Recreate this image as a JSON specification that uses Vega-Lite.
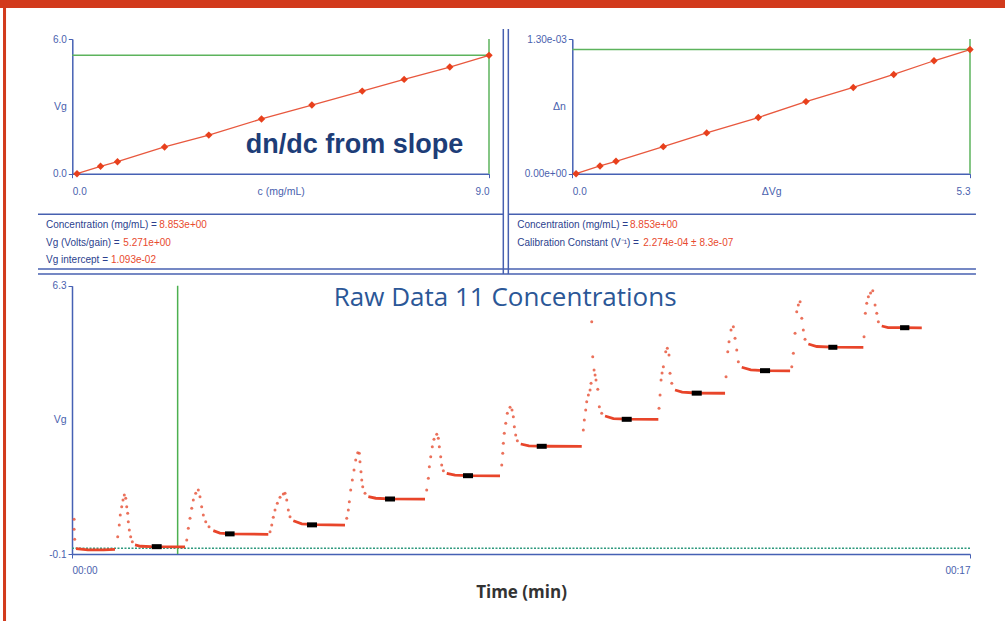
{
  "$schema": "https://vega.github.io/schema/vega-lite/v6.json",
  "width": 1005,
  "height": 621,
  "padding": 0,
  "autosize": {"type": "none"},
  "background": "white",
  "config": {
    "view": {"stroke": null},
    "axis": {
      "grid": false,
      "domainColor": "#4661b4",
      "tickColor": "#4661b4",
      "labelColor": "#4a5fae",
      "titleColor": "#4a5fae",
      "labelFont": "Liberation Sans",
      "titleFont": "Liberation Sans",
      "labelFontSize": 10,
      "titleFontSize": 10.5,
      "titleFontWeight": "normal",
      "domainWidth": 1.5,
      "tickSize": 4
    },
    "text": {"font": "Liberation Sans", "fontSize": 10, "align": "left", "baseline": "middle"}
  },
  "data": {"values": [{}]},
  "datasets": {
    "tl": [
      {"c": 0.1, "vg": 0.0}, {"c": 0.6, "vg": 0.33}, {"c": 0.96, "vg": 0.535}, {"c": 1.96, "vg": 1.19},
      {"c": 2.9, "vg": 1.72}, {"c": 4.02, "vg": 2.44}, {"c": 5.09, "vg": 3.06}, {"c": 6.16, "vg": 3.68},
      {"c": 7.05, "vg": 4.2}, {"c": 8.02, "vg": 4.75}, {"c": 8.853, "vg": 5.271}
    ],
    "tr": [
      {"dvg": 0.05, "dn": 0}, {"dvg": 0.367, "dn": 0.0000745}, {"dvg": 0.579, "dn": 0.00012}, {"dvg": 1.206, "dn": 0.000261},
      {"dvg": 1.781, "dn": 0.000394}, {"dvg": 2.465, "dn": 0.000542}, {"dvg": 3.097, "dn": 0.000696}, {"dvg": 3.724, "dn": 0.000832},
      {"dvg": 4.26, "dn": 0.000958}, {"dvg": 4.794, "dn": 0.00109}, {"dvg": 5.271, "dn": 0.0011986}
    ],
    "plateau": [
      {"seg": "L0", "t": 0.076, "v": 0.03}, {"seg": "L0", "t": 0.3, "v": 0.0}, {"seg": "L0", "t": 0.6, "v": 0.0}, {"seg": "L0", "t": 0.814, "v": 0.01},
      {"seg": "L1", "t": 1.193, "v": 0.115}, {"seg": "L1", "t": 1.3, "v": 0.085}, {"seg": "L1", "t": 1.5, "v": 0.075}, {"seg": "L1", "t": 2.14, "v": 0.07},
      {"seg": "L2", "t": 2.675, "v": 0.456}, {"seg": "L2", "t": 2.8, "v": 0.4}, {"seg": "L2", "t": 3.0, "v": 0.38}, {"seg": "L2", "t": 3.716, "v": 0.37},
      {"seg": "L3", "t": 4.19, "v": 0.694}, {"seg": "L3", "t": 4.35, "v": 0.62}, {"seg": "L3", "t": 4.6, "v": 0.6}, {"seg": "L3", "t": 5.168, "v": 0.59},
      {"seg": "L4", "t": 5.61, "v": 1.267}, {"seg": "L4", "t": 5.75, "v": 1.23}, {"seg": "L4", "t": 6.0, "v": 1.215}, {"seg": "L4", "t": 6.683, "v": 1.21},
      {"seg": "L5", "t": 7.094, "v": 1.825}, {"seg": "L5", "t": 7.25, "v": 1.78}, {"seg": "L5", "t": 7.5, "v": 1.77}, {"seg": "L5", "t": 8.103, "v": 1.765},
      {"seg": "L6", "t": 8.495, "v": 2.524}, {"seg": "L6", "t": 8.65, "v": 2.48}, {"seg": "L6", "t": 9.0, "v": 2.47}, {"seg": "L6", "t": 9.65, "v": 2.465},
      {"seg": "L7", "t": 10.091, "v": 3.192}, {"seg": "L7", "t": 10.25, "v": 3.13}, {"seg": "L7", "t": 10.5, "v": 3.115}, {"seg": "L7", "t": 11.1, "v": 3.11},
      {"seg": "L8", "t": 11.416, "v": 3.812}, {"seg": "L8", "t": 11.55, "v": 3.76}, {"seg": "L8", "t": 11.8, "v": 3.74}, {"seg": "L8", "t": 12.363, "v": 3.735},
      {"seg": "L9", "t": 12.679, "v": 4.354}, {"seg": "L9", "t": 12.85, "v": 4.29}, {"seg": "L9", "t": 13.1, "v": 4.275}, {"seg": "L9", "t": 13.594, "v": 4.27},
      {"seg": "L10", "t": 13.94, "v": 4.91}, {"seg": "L10", "t": 14.1, "v": 4.85}, {"seg": "L10", "t": 14.4, "v": 4.835}, {"seg": "L10", "t": 14.981, "v": 4.83},
      {"seg": "L11", "t": 15.329, "v": 5.339}, {"seg": "L11", "t": 15.45, "v": 5.3}, {"seg": "L11", "t": 15.7, "v": 5.298}, {"seg": "L11", "t": 16.087, "v": 5.295}
    ],
    "dots": [
      {"t": 0.04, "v": 0.73}, {"t": 0.04, "v": 0.49}, {"t": 0.05, "v": 0.25},
      {"t": 0.865, "v": 0.313}, {"t": 0.895, "v": 0.592}, {"t": 0.914, "v": 0.83}, {"t": 0.941, "v": 1.028}, {"t": 0.966, "v": 1.188}, {"t": 0.99, "v": 1.307}, {"t": 1.017, "v": 1.229}, {"t": 1.036, "v": 1.028}, {"t": 1.054, "v": 0.871}, {"t": 1.066, "v": 0.671}, {"t": 1.085, "v": 0.473}, {"t": 1.111, "v": 0.313}, {"t": 1.142, "v": 0.193},
      {"t": 2.172, "v": 0.234}, {"t": 2.202, "v": 0.513}, {"t": 2.234, "v": 0.752}, {"t": 2.266, "v": 0.99}, {"t": 2.296, "v": 1.188}, {"t": 2.342, "v": 1.348}, {"t": 2.391, "v": 1.427}, {"t": 2.423, "v": 1.267}, {"t": 2.455, "v": 1.028}, {"t": 2.486, "v": 0.83}, {"t": 2.532, "v": 0.671}, {"t": 2.594, "v": 0.551},
      {"t": 3.749, "v": 0.432}, {"t": 3.781, "v": 0.592}, {"t": 3.811, "v": 0.775}, {"t": 3.843, "v": 0.95}, {"t": 3.887, "v": 1.109}, {"t": 3.938, "v": 1.253}, {"t": 4.0, "v": 1.331}, {"t": 4.033, "v": 1.348}, {"t": 4.065, "v": 1.188}, {"t": 4.095, "v": 0.95}, {"t": 4.127, "v": 0.79},
      {"t": 5.201, "v": 0.752}, {"t": 5.231, "v": 0.95}, {"t": 5.25, "v": 1.148}, {"t": 5.276, "v": 1.427}, {"t": 5.307, "v": 1.665}, {"t": 5.339, "v": 1.904}, {"t": 5.371, "v": 2.142}, {"t": 5.409, "v": 2.317}, {"t": 5.439, "v": 2.302}, {"t": 5.452, "v": 2.102}, {"t": 5.471, "v": 1.863}, {"t": 5.485, "v": 1.665}, {"t": 5.504, "v": 1.505}, {"t": 5.547, "v": 1.348},
      {"t": 6.715, "v": 1.427}, {"t": 6.746, "v": 1.706}, {"t": 6.765, "v": 1.983}, {"t": 6.791, "v": 2.221}, {"t": 6.821, "v": 2.46}, {"t": 6.853, "v": 2.636}, {"t": 6.905, "v": 2.755}, {"t": 6.935, "v": 2.66}, {"t": 6.954, "v": 2.46}, {"t": 6.98, "v": 2.221}, {"t": 6.999, "v": 2.023}, {"t": 7.03, "v": 1.887},
      {"t": 8.135, "v": 2.023}, {"t": 8.154, "v": 2.302}, {"t": 8.166, "v": 2.541}, {"t": 8.184, "v": 2.779}, {"t": 8.211, "v": 3.018}, {"t": 8.241, "v": 3.256}, {"t": 8.292, "v": 3.4}, {"t": 8.33, "v": 3.335}, {"t": 8.355, "v": 3.175}, {"t": 8.374, "v": 2.937}, {"t": 8.4, "v": 2.739}, {"t": 8.431, "v": 2.603},
      {"t": 9.68, "v": 2.858}, {"t": 9.699, "v": 3.097}, {"t": 9.725, "v": 3.335}, {"t": 9.744, "v": 3.533}, {"t": 9.775, "v": 3.693}, {"t": 9.807, "v": 3.812}, {"t": 9.826, "v": 3.972}, {"t": 9.839, "v": 5.442}, {"t": 9.858, "v": 4.607}, {"t": 9.883, "v": 4.289}, {"t": 9.902, "v": 4.17}, {"t": 9.92, "v": 4.051}, {"t": 9.953, "v": 3.829}, {"t": 9.983, "v": 3.414}, {"t": 10.028, "v": 3.256},
      {"t": 11.113, "v": 3.376}, {"t": 11.132, "v": 3.693}, {"t": 11.151, "v": 4.051}, {"t": 11.17, "v": 4.218}, {"t": 11.195, "v": 4.368}, {"t": 11.24, "v": 4.726}, {"t": 11.27, "v": 4.807}, {"t": 11.302, "v": 4.647}, {"t": 11.321, "v": 4.211}, {"t": 11.354, "v": 3.972},
      {"t": 12.382, "v": 4.13}, {"t": 12.414, "v": 4.726}, {"t": 12.438, "v": 4.964}, {"t": 12.476, "v": 5.244}, {"t": 12.52, "v": 5.322}, {"t": 12.552, "v": 5.046}, {"t": 12.584, "v": 4.766}, {"t": 12.614, "v": 4.487},
      {"t": 13.626, "v": 4.368}, {"t": 13.656, "v": 4.688}, {"t": 13.688, "v": 5.165}, {"t": 13.72, "v": 5.68}, {"t": 13.75, "v": 5.84}, {"t": 13.783, "v": 5.919}, {"t": 13.815, "v": 5.523}, {"t": 13.845, "v": 5.244}, {"t": 13.877, "v": 5.022},
      {"t": 14.994, "v": 5.084}, {"t": 15.019, "v": 5.642}, {"t": 15.045, "v": 5.88}, {"t": 15.076, "v": 6.038}, {"t": 15.117, "v": 6.126}, {"t": 15.159, "v": 6.181}, {"t": 15.203, "v": 5.84}, {"t": 15.235, "v": 5.642}, {"t": 15.265, "v": 5.442}
    ],
    "avg": [
      {"t0": 1.509, "t1": 1.698, "v": 0.075}, {"t0": 2.897, "t1": 3.078, "v": 0.38}, {"t0": 4.449, "t1": 4.638, "v": 0.595},
      {"t0": 5.926, "t1": 6.115, "v": 1.212}, {"t0": 7.402, "t1": 7.592, "v": 1.768}, {"t0": 8.798, "t1": 8.987, "v": 2.469},
      {"t0": 10.407, "t1": 10.596, "v": 3.113}, {"t0": 11.732, "t1": 11.922, "v": 3.737}, {"t0": 13.025, "t1": 13.215, "v": 4.273},
      {"t0": 14.318, "t1": 14.489, "v": 4.831}, {"t0": 15.676, "t1": 15.852, "v": 5.298}
    ]
  },
  "resolve": {"scale": {"x": "independent", "y": "independent"}, "axis": {"x": "independent", "y": "independent"}},
  "layer": [
    {"mark": {"type": "rect", "color": "#d23a1c"},
     "encoding": {"x": {"datum": 0, "type": "quantitative", "scale": {"domain": [0, 1], "range": [0, 1005], "nice": false, "zero": false}, "axis": null}, "x2": {"datum": 1},
                  "y": {"datum": 0, "type": "quantitative", "scale": {"domain": [0, 1], "range": [0, 621], "nice": false, "zero": false}, "axis": null}, "y2": {"datum": 0.0129}}},
    {"mark": {"type": "rect", "color": "#d23a1c"},
     "encoding": {"x": {"datum": 0.003, "type": "quantitative", "scale": {"domain": [0, 1], "range": [0, 1005], "nice": false, "zero": false}, "axis": null}, "x2": {"datum": 0.006},
                  "y": {"datum": 0, "type": "quantitative", "scale": {"domain": [0, 1], "range": [0, 621], "nice": false, "zero": false}, "axis": null}, "y2": {"datum": 1}}},
    {"mark": {"type": "rule", "color": "#4760b0", "strokeWidth": 1.5},
     "encoding": {"x": {"datum": 0.0378, "type": "quantitative", "scale": {"domain": [0, 1], "range": [0, 1005], "nice": false, "zero": false}, "axis": null}, "x2": {"datum": 0.5005},
                  "y": {"datum": 0.3451, "type": "quantitative", "scale": {"domain": [0, 1], "range": [0, 621], "nice": false, "zero": false}, "axis": null}}},
    {"mark": {"type": "rule", "color": "#4760b0", "strokeWidth": 1.5},
     "encoding": {"x": {"datum": 0.5058, "type": "quantitative", "scale": {"domain": [0, 1], "range": [0, 1005], "nice": false, "zero": false}, "axis": null}, "x2": {"datum": 0.9711},
                  "y": {"datum": 0.3451, "type": "quantitative", "scale": {"domain": [0, 1], "range": [0, 621], "nice": false, "zero": false}, "axis": null}}},
    {"mark": {"type": "rule", "color": "#4760b0", "strokeWidth": 1.5},
     "encoding": {"x": {"datum": 0.0378, "type": "quantitative", "scale": {"domain": [0, 1], "range": [0, 1005], "nice": false, "zero": false}, "axis": null}, "x2": {"datum": 0.9711},
                  "y": {"datum": 0.4332, "type": "quantitative", "scale": {"domain": [0, 1], "range": [0, 621], "nice": false, "zero": false}, "axis": null}}},
    {"mark": {"type": "rule", "color": "#4760b0", "strokeWidth": 1.5},
     "encoding": {"x": {"datum": 0.0378, "type": "quantitative", "scale": {"domain": [0, 1], "range": [0, 1005], "nice": false, "zero": false}, "axis": null}, "x2": {"datum": 0.9711},
                  "y": {"datum": 0.4412, "type": "quantitative", "scale": {"domain": [0, 1], "range": [0, 621], "nice": false, "zero": false}, "axis": null}}},
    {"mark": {"type": "rule", "color": "#4760b0", "strokeWidth": 1.5},
     "encoding": {"x": {"datum": 0.5008, "type": "quantitative", "scale": {"domain": [0, 1], "range": [0, 1005], "nice": false, "zero": false}, "axis": null},
                  "y": {"datum": 0.0467, "type": "quantitative", "scale": {"domain": [0, 1], "range": [0, 621], "nice": false, "zero": false}, "axis": null}, "y2": {"datum": 0.4412}}},
    {"mark": {"type": "rule", "color": "#4760b0", "strokeWidth": 1.5},
     "encoding": {"x": {"datum": 0.5058, "type": "quantitative", "scale": {"domain": [0, 1], "range": [0, 1005], "nice": false, "zero": false}, "axis": null},
                  "y": {"datum": 0.0467, "type": "quantitative", "scale": {"domain": [0, 1], "range": [0, 621], "nice": false, "zero": false}, "axis": null}, "y2": {"datum": 0.4412}}},
    {"mark": {"type": "text", "text": "Concentration (mg/mL) = ", "color": "#2c3f8e"},
     "encoding": {"x": {"datum": 0.0458, "type": "quantitative", "scale": {"domain": [0, 1], "range": [0, 1005], "nice": false, "zero": false}, "axis": null},
                  "y": {"datum": 0.3623, "type": "quantitative", "scale": {"domain": [0, 1], "range": [0, 621], "nice": false, "zero": false}, "axis": null}}},
    {"mark": {"type": "text", "text": "8.853e+00", "color": "#e84a2e"},
     "encoding": {"x": {"datum": 0.1585, "type": "quantitative", "scale": {"domain": [0, 1], "range": [0, 1005], "nice": false, "zero": false}, "axis": null},
                  "y": {"datum": 0.3623, "type": "quantitative", "scale": {"domain": [0, 1], "range": [0, 621], "nice": false, "zero": false}, "axis": null}}},
    {"mark": {"type": "text", "text": "Vg (Volts/gain) = ", "color": "#2c3f8e"},
     "encoding": {"x": {"datum": 0.0458, "type": "quantitative", "scale": {"domain": [0, 1], "range": [0, 1005], "nice": false, "zero": false}, "axis": null},
                  "y": {"datum": 0.3908, "type": "quantitative", "scale": {"domain": [0, 1], "range": [0, 621], "nice": false, "zero": false}, "axis": null}}},
    {"mark": {"type": "text", "text": "5.271e+00", "color": "#e84a2e"},
     "encoding": {"x": {"datum": 0.1227, "type": "quantitative", "scale": {"domain": [0, 1], "range": [0, 1005], "nice": false, "zero": false}, "axis": null},
                  "y": {"datum": 0.3908, "type": "quantitative", "scale": {"domain": [0, 1], "range": [0, 621], "nice": false, "zero": false}, "axis": null}}},
    {"mark": {"type": "text", "text": "Vg intercept = ", "color": "#2c3f8e"},
     "encoding": {"x": {"datum": 0.0458, "type": "quantitative", "scale": {"domain": [0, 1], "range": [0, 1005], "nice": false, "zero": false}, "axis": null},
                  "y": {"datum": 0.4192, "type": "quantitative", "scale": {"domain": [0, 1], "range": [0, 621], "nice": false, "zero": false}, "axis": null}}},
    {"mark": {"type": "text", "text": "1.093e-02", "color": "#e84a2e"},
     "encoding": {"x": {"datum": 0.1104, "type": "quantitative", "scale": {"domain": [0, 1], "range": [0, 1005], "nice": false, "zero": false}, "axis": null},
                  "y": {"datum": 0.4192, "type": "quantitative", "scale": {"domain": [0, 1], "range": [0, 621], "nice": false, "zero": false}, "axis": null}}},
    {"mark": {"type": "text", "text": "Concentration (mg/mL) = ", "color": "#2c3f8e"},
     "encoding": {"x": {"datum": 0.5147, "type": "quantitative", "scale": {"domain": [0, 1], "range": [0, 1005], "nice": false, "zero": false}, "axis": null},
                  "y": {"datum": 0.3623, "type": "quantitative", "scale": {"domain": [0, 1], "range": [0, 621], "nice": false, "zero": false}, "axis": null}}},
    {"mark": {"type": "text", "text": "8.853e+00", "color": "#e84a2e"},
     "encoding": {"x": {"datum": 0.6269, "type": "quantitative", "scale": {"domain": [0, 1], "range": [0, 1005], "nice": false, "zero": false}, "axis": null},
                  "y": {"datum": 0.3623, "type": "quantitative", "scale": {"domain": [0, 1], "range": [0, 621], "nice": false, "zero": false}, "axis": null}}},
    {"mark": {"type": "text", "text": "Calibration Constant (V⁻¹) = ", "color": "#2c3f8e"},
     "encoding": {"x": {"datum": 0.5147, "type": "quantitative", "scale": {"domain": [0, 1], "range": [0, 1005], "nice": false, "zero": false}, "axis": null},
                  "y": {"datum": 0.3908, "type": "quantitative", "scale": {"domain": [0, 1], "range": [0, 621], "nice": false, "zero": false}, "axis": null}}},
    {"mark": {"type": "text", "text": "2.274e-04 ±  8.3e-07", "color": "#e84a2e"},
     "encoding": {"x": {"datum": 0.6401, "type": "quantitative", "scale": {"domain": [0, 1], "range": [0, 1005], "nice": false, "zero": false}, "axis": null},
                  "y": {"datum": 0.3908, "type": "quantitative", "scale": {"domain": [0, 1], "range": [0, 621], "nice": false, "zero": false}, "axis": null}}},

    {"data": {"name": "tl"}, "mark": {"type": "line", "color": "#e8583e", "strokeWidth": 1.3},
     "encoding": {
       "x": {"field": "c", "type": "quantitative", "scale": {"domain": [0, 8.853], "range": [72.3, 489], "nice": false, "zero": false},
             "axis": {"orient": "bottom", "offset": -447.3, "values": [0, 8.853], "labelExpr": "datum.value == 0 ? '0.0' : '9.0'", "labelFlush": true, "labelPadding": 14, "labelBaseline": "middle", "title": "c (mg/mL)", "titleY": 18, "titleBaseline": "middle"}},
       "y": {"field": "vg", "type": "quantitative", "scale": {"domain": [0, 6], "range": [173.7, 39], "nice": false, "zero": false},
             "axis": {"orient": "left", "offset": -72.3, "values": [0, 6], "format": ".1f", "labelPadding": 2, "title": "Vg", "titleAngle": 0, "titleX": -6, "titleAlign": "right", "titleBaseline": "middle"}}}},
    {"mark": {"type": "rule", "color": "#5db35d", "strokeWidth": 1.5},
     "encoding": {"x": {"datum": 0, "type": "quantitative", "scale": {"domain": [0, 8.853], "range": [72.3, 489], "nice": false, "zero": false}, "axis": null}, "x2": {"datum": 8.853},
                  "y": {"datum": 5.271, "type": "quantitative", "scale": {"domain": [0, 6], "range": [173.7, 39], "nice": false, "zero": false}, "axis": null}}},
    {"mark": {"type": "rule", "color": "#5db35d", "strokeWidth": 1.5},
     "encoding": {"x": {"datum": 8.853, "type": "quantitative", "scale": {"domain": [0, 8.853], "range": [72.3, 489], "nice": false, "zero": false}, "axis": null},
                  "y": {"datum": 0, "type": "quantitative", "scale": {"domain": [0, 6], "range": [173.7, 39], "nice": false, "zero": false}, "axis": null}, "y2": {"datum": 6}}},
    {"data": {"name": "tl"}, "mark": {"type": "point", "shape": "diamond", "filled": true, "size": 55, "color": "#e8401c", "opacity": 1},
     "encoding": {"x": {"field": "c", "type": "quantitative", "scale": {"domain": [0, 8.853], "range": [72.3, 489], "nice": false, "zero": false}, "axis": null},
                  "y": {"field": "vg", "type": "quantitative", "scale": {"domain": [0, 6], "range": [173.7, 39], "nice": false, "zero": false}, "axis": null}}},
    {"mark": {"type": "text", "text": "dn/dc from slope", "align": "center", "font": "Liberation Sans", "fontWeight": "bold", "fontSize": 27, "color": "#1d3d78"},
     "encoding": {"x": {"datum": 5.996, "type": "quantitative", "scale": {"domain": [0, 8.853], "range": [72.3, 489], "nice": false, "zero": false}, "axis": null},
                  "y": {"datum": 1.278, "type": "quantitative", "scale": {"domain": [0, 6], "range": [173.7, 39], "nice": false, "zero": false}, "axis": null}}},

    {"data": {"name": "tr"}, "mark": {"type": "line", "color": "#e8583e", "strokeWidth": 1.3},
     "encoding": {
       "x": {"field": "dvg", "type": "quantitative", "scale": {"domain": [0, 5.271], "range": [572.3, 970], "nice": false, "zero": false},
             "axis": {"orient": "bottom", "offset": -447.3, "values": [0, 5.271], "labelExpr": "datum.value == 0 ? '0.0' : '5.3'", "labelFlush": true, "labelPadding": 14, "labelBaseline": "middle", "title": "ΔVg", "titleY": 18, "titleBaseline": "middle"}},
       "y": {"field": "dn", "type": "quantitative", "scale": {"domain": [0, 0.0013], "range": [173.7, 39], "nice": false, "zero": false},
             "axis": {"orient": "left", "offset": -572.3, "values": [0, 0.0013], "labelExpr": "datum.value == 0 ? '0.00e+00' : '1.30e-03'", "labelPadding": 2, "title": "Δn", "titleAngle": 0, "titleX": -7, "titleAlign": "right", "titleBaseline": "middle"}}}},
    {"mark": {"type": "rule", "color": "#5db35d", "strokeWidth": 1.5},
     "encoding": {"x": {"datum": 0, "type": "quantitative", "scale": {"domain": [0, 5.271], "range": [572.3, 970], "nice": false, "zero": false}, "axis": null}, "x2": {"datum": 5.271},
                  "y": {"datum": 0.0011986, "type": "quantitative", "scale": {"domain": [0, 0.0013], "range": [173.7, 39], "nice": false, "zero": false}, "axis": null}}},
    {"mark": {"type": "rule", "color": "#5db35d", "strokeWidth": 1.5},
     "encoding": {"x": {"datum": 5.271, "type": "quantitative", "scale": {"domain": [0, 5.271], "range": [572.3, 970], "nice": false, "zero": false}, "axis": null},
                  "y": {"datum": 0, "type": "quantitative", "scale": {"domain": [0, 0.0013], "range": [173.7, 39], "nice": false, "zero": false}, "axis": null}, "y2": {"datum": 0.0013}}},
    {"data": {"name": "tr"}, "mark": {"type": "point", "shape": "diamond", "filled": true, "size": 55, "color": "#e8401c", "opacity": 1},
     "encoding": {"x": {"field": "dvg", "type": "quantitative", "scale": {"domain": [0, 5.271], "range": [572.3, 970], "nice": false, "zero": false}, "axis": null},
                  "y": {"field": "dn", "type": "quantitative", "scale": {"domain": [0, 0.0013], "range": [173.7, 39], "nice": false, "zero": false}, "axis": null}}},

    {"mark": {"type": "rule", "color": "#2e9a7e", "strokeWidth": 1.5, "strokeDash": [2, 1.5]},
     "encoding": {"x": {"datum": 0, "type": "quantitative", "scale": {"domain": [0, 17], "range": [72, 970], "nice": false, "zero": false}, "axis": null}, "x2": {"datum": 17},
                  "y": {"datum": 0.04, "type": "quantitative", "scale": {"domain": [-0.1, 6.3], "range": [554, 285.7], "nice": false, "zero": false}, "axis": null}}},
    {"mark": {"type": "rule", "color": "#4cb050", "strokeWidth": 1.5},
     "encoding": {"x": {"datum": 2.0, "type": "quantitative", "scale": {"domain": [0, 17], "range": [72, 970], "nice": false, "zero": false}, "axis": null},
                  "y": {"datum": -0.1, "type": "quantitative", "scale": {"domain": [-0.1, 6.3], "range": [554, 285.7], "nice": false, "zero": false}, "axis": null}, "y2": {"datum": 6.3}}},
    {"data": {"name": "plateau"}, "mark": {"type": "line", "color": "#e8452a", "strokeWidth": 2.8},
     "encoding": {
       "x": {"field": "t", "type": "quantitative", "scale": {"domain": [0, 17], "range": [72, 970], "nice": false, "zero": false},
             "axis": {"orient": "bottom", "offset": -67, "values": [0, 17], "labelExpr": "datum.value == 0 ? '00:00' : '00:17'", "labelFlush": true, "labelPadding": 12, "labelBaseline": "middle", "title": "Time (min)", "titleY": 38, "titleBaseline": "middle", "titleFont": "Open Sans", "titleFontWeight": "bold", "titleFontSize": 17, "titleColor": "#333333"}},
       "y": {"field": "v", "type": "quantitative", "scale": {"domain": [-0.1, 6.3], "range": [554, 285.7], "nice": false, "zero": false},
             "axis": {"orient": "left", "offset": -72, "values": [-0.1, 6.3], "labelExpr": "datum.value < 0 ? '-0.1' : '6.3'", "labelPadding": 2, "title": "Vg", "titleAngle": 0, "titleX": -6, "titleAlign": "right", "titleBaseline": "middle"}},
       "detail": {"field": "seg"}}},
    {"data": {"name": "dots"}, "mark": {"type": "point", "shape": "circle", "filled": true, "size": 9, "color": "#e8583e", "opacity": 0.85},
     "encoding": {"x": {"field": "t", "type": "quantitative", "scale": {"domain": [0, 17], "range": [72, 970], "nice": false, "zero": false}, "axis": null},
                  "y": {"field": "v", "type": "quantitative", "scale": {"domain": [-0.1, 6.3], "range": [554, 285.7], "nice": false, "zero": false}, "axis": null}}},
    {"data": {"name": "avg"}, "mark": {"type": "rule", "color": "#000000", "strokeWidth": 5},
     "encoding": {"x": {"field": "t0", "type": "quantitative", "scale": {"domain": [0, 17], "range": [72, 970], "nice": false, "zero": false}, "axis": null}, "x2": {"field": "t1"},
                  "y": {"field": "v", "type": "quantitative", "scale": {"domain": [-0.1, 6.3], "range": [554, 285.7], "nice": false, "zero": false}, "axis": null}}},
    {"mark": {"type": "text", "text": "Raw Data 11 Concentrations", "align": "center", "font": "Open Sans", "fontSize": 26, "color": "#2b5797"},
     "encoding": {"x": {"datum": 8.2, "type": "quantitative", "scale": {"domain": [0, 17], "range": [72, 970], "nice": false, "zero": false}, "axis": null},
                  "y": {"datum": 6.007, "type": "quantitative", "scale": {"domain": [-0.1, 6.3], "range": [554, 285.7], "nice": false, "zero": false}, "axis": null}}}
  ]
}
